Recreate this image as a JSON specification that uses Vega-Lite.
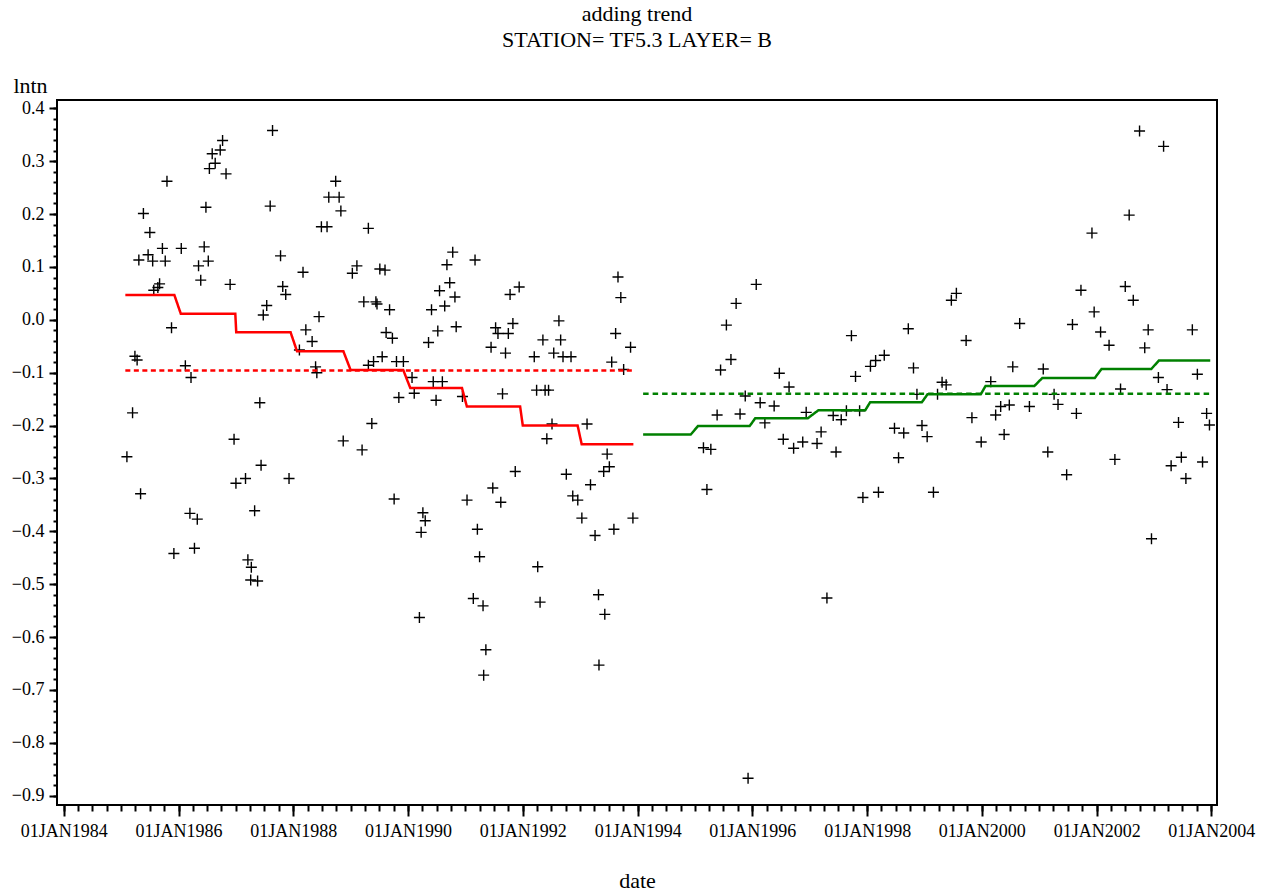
{
"$schema": "https://vega.github.io/schema/vega-lite/v6.json",
"width": 1160, "height": 705,
"autosize": "none",
"padding": {"left": 57, "top": 100, "right": 51, "bottom": 87},
"background": "white",
"config": {
 "view": {"stroke": "black", "strokeWidth": 2},
 "font": "Liberation Serif",
 "axis": {"domain": false, "grid": false, "tickColor": "black", "tickWidth": 2, "labelColor": "black", "labelFont": "Liberation Serif", "labelFontSize": 18, "titleFont": "Liberation Serif", "titleFontSize": 22, "titleFontWeight": "normal", "titleColor": "black", "labelFlush": false, "labelOverlap": false}
},
"title": {"text": ["adding trend", "STATION= TF5.3 LAYER= B"], "font": "Liberation Serif", "fontSize": 22, "fontWeight": "normal", "color": "black", "lineHeight": 26, "anchor": "middle", "frame": "group", "offset": 22},
"datasets": {
 "obs": [
{"date":"1987-08-22","lntn":0.358},{"date":"1986-10-08","lntn":0.339},{"date":"1986-09-23","lntn":0.321},{"date":"1986-08-03","lntn":0.314},{"date":"1986-08-22","lntn":0.296},{"date":"1986-07-16","lntn":0.286},{"date":"1986-10-30","lntn":0.276},{"date":"1985-10-19","lntn":0.262},{"date":"1988-09-27","lntn":0.262},{"date":"1988-08-14","lntn":0.232},{"date":"1988-10-19","lntn":0.232},{"date":"1988-10-30","lntn":0.206},{"date":"1986-06-24","lntn":0.213},{"date":"1987-08-07","lntn":0.215},{"date":"1985-05-22","lntn":0.201},{"date":"1985-07-02","lntn":0.165},{"date":"1988-06-28","lntn":0.176},{"date":"1988-08-03","lntn":0.176},{"date":"1989-04-23","lntn":0.173},{"date":"1985-04-23","lntn":0.113},{"date":"1985-06-21","lntn":0.123},{"date":"1985-07-20","lntn":0.111},{"date":"1985-09-20","lntn":0.135},{"date":"1985-10-08","lntn":0.111},{"date":"1986-01-18","lntn":0.135},{"date":"1986-06-13","lntn":0.138},{"date":"1986-05-08","lntn":0.102},{"date":"1986-07-09","lntn":0.111},{"date":"1986-05-22","lntn":0.075},{"date":"1986-11-25","lntn":0.067},{"date":"1987-10-12","lntn":0.121},{"date":"1988-03-03","lntn":0.090},{"date":"1985-07-27","lntn":0.056},{"date":"1985-08-22","lntn":0.061},{"date":"1985-09-02","lntn":0.068},{"date":"1987-10-26","lntn":0.063},{"date":"1987-11-14","lntn":0.048},{"date":"1987-07-16","lntn":0.027},{"date":"1987-06-24","lntn":0.009},{"date":"1988-06-13","lntn":0.006},{"date":"1985-11-17","lntn":-0.015},{"date":"1988-03-21","lntn":-0.019},{"date":"1988-04-30","lntn":-0.041},{"date":"1988-02-09","lntn":-0.057},{"date":"1989-02-09","lntn":0.102},{"date":"1989-01-11","lntn":0.088},{"date":"1989-07-05","lntn":0.096},{"date":"1989-08-07","lntn":0.094},{"date":"1989-03-25","lntn":0.034},{"date":"1989-06-10","lntn":0.034},{"date":"1989-06-17","lntn":0.030},{"date":"1989-09-05","lntn":0.019},{"date":"1989-08-14","lntn":-0.024},{"date":"1989-09-23","lntn":-0.035},{"date":"1989-07-20","lntn":-0.070},{"date":"1989-04-23","lntn":-0.086},{"date":"1989-05-26","lntn":-0.079},{"date":"1989-10-19","lntn":-0.079},{"date":"1989-12-02","lntn":-0.079},{"date":"1985-03-29","lntn":-0.069},{"date":"1985-04-12","lntn":-0.076},{"date":"1986-02-13","lntn":-0.087},{"date":"1986-03-21","lntn":-0.109},{"date":"1988-05-22","lntn":-0.089},{"date":"1988-05-30","lntn":-0.100},{"date":"1990-01-26","lntn":-0.109},{"date":"1990-02-09","lntn":-0.139},{"date":"1989-11-03","lntn":-0.147},
{"date":"1987-06-02","lntn":-0.157},{"date":"1985-03-14","lntn":-0.176},{"date":"1989-05-15","lntn":-0.196},{"date":"1988-11-14","lntn":-0.229},{"date":"1989-03-14","lntn":-0.246},{"date":"1986-12-20","lntn":-0.226},{"date":"1985-02-06","lntn":-0.259},{"date":"1987-06-10","lntn":-0.275},{"date":"1987-03-03","lntn":-0.300},{"date":"1987-01-01","lntn":-0.309},{"date":"1987-12-05","lntn":-0.300},{"date":"1985-05-04","lntn":-0.329},{"date":"1989-10-04","lntn":-0.339},{"date":"1990-04-05","lntn":-0.365},{"date":"1990-04-20","lntn":-0.380},{"date":"1990-03-25","lntn":-0.402},{"date":"1987-04-30","lntn":-0.361},{"date":"1986-03-14","lntn":-0.366},{"date":"1986-04-30","lntn":-0.377},{"date":"1985-12-02","lntn":-0.442},{"date":"1986-04-12","lntn":-0.432},{"date":"1987-03-18","lntn":-0.454},{"date":"1987-04-09","lntn":-0.468},{"date":"1987-04-05","lntn":-0.492},{"date":"1987-05-19","lntn":-0.494},{"date":"1990-03-14","lntn":-0.563},
{"date":"1990-10-12","lntn":0.128},{"date":"1991-03-03","lntn":0.113},{"date":"1990-09-05","lntn":0.104},{"date":"1990-09-23","lntn":0.070},{"date":"1990-07-20","lntn":0.055},{"date":"1990-10-26","lntn":0.043},{"date":"1990-08-22","lntn":0.026},{"date":"1990-05-30","lntn":0.019},{"date":"1990-07-09","lntn":-0.021},{"date":"1990-11-03","lntn":-0.013},{"date":"1990-05-11","lntn":-0.043},{"date":"1991-10-12","lntn":0.048},{"date":"1991-12-09","lntn":0.062},{"date":"1991-07-12","lntn":-0.015},{"date":"1991-07-27","lntn":-0.026},{"date":"1991-10-01","lntn":-0.026},{"date":"1991-10-30","lntn":-0.007},{"date":"1991-06-13","lntn":-0.052},{"date":"1991-09-13","lntn":-0.063},{"date":"1992-03-14","lntn":-0.070},{"date":"1992-05-08","lntn":-0.038},{"date":"1992-08-18","lntn":-0.002},{"date":"1992-08-29","lntn":-0.038},{"date":"1992-07-16","lntn":-0.063},{"date":"1992-09-13","lntn":-0.070},{"date":"1992-11-03","lntn":-0.070},{"date":"1993-08-29","lntn":0.081},{"date":"1993-09-16","lntn":0.042},{"date":"1993-08-14","lntn":-0.026},{"date":"1993-11-17","lntn":-0.052},{"date":"1993-07-20","lntn":-0.080},{"date":"1993-10-04","lntn":-0.094},{"date":"1990-06-10","lntn":-0.117},{"date":"1990-08-07","lntn":-0.117},{"date":"1990-06-28","lntn":-0.152},{"date":"1990-12-13","lntn":-0.145},{"date":"1991-08-25","lntn":-0.140},{"date":"1992-03-29","lntn":-0.133},{"date":"1992-05-22","lntn":-0.133},{"date":"1992-06-13","lntn":-0.133},{"date":"1992-07-05","lntn":-0.197},{"date":"1992-06-02","lntn":-0.225},{"date":"1993-02-13","lntn":-0.197},{"date":"1993-06-21","lntn":-0.254},
{"date":"1996-01-26","lntn":0.067},{"date":"1995-09-20","lntn":0.031},{"date":"1995-07-20","lntn":-0.010},{"date":"1995-08-18","lntn":-0.075},{"date":"1995-06-13","lntn":-0.095},{"date":"1996-06-21","lntn":-0.101},{"date":"1996-08-22","lntn":-0.127},{"date":"1995-11-17","lntn":-0.144},{"date":"1996-02-20","lntn":-0.157},{"date":"1996-05-19","lntn":-0.163},{"date":"1995-05-22","lntn":-0.180},{"date":"1995-10-15","lntn":-0.178},{"date":"1996-12-09","lntn":-0.175},{"date":"1996-03-21","lntn":-0.195},{"date":"1997-03-14","lntn":-0.212},{"date":"1996-07-16","lntn":-0.226},{"date":"1996-09-20","lntn":-0.243},{"date":"1996-11-17","lntn":-0.231},{"date":"1997-02-16","lntn":-0.234},{"date":"1995-02-24","lntn":-0.242},{"date":"1995-04-12","lntn":-0.245},
{"date":"2002-10-01","lntn":0.357},{"date":"2003-03-03","lntn":0.328},{"date":"2002-07-27","lntn":0.198},{"date":"2001-12-02","lntn":0.164},{"date":"1999-07-23","lntn":0.050},{"date":"1999-06-21","lntn":0.037},{"date":"2001-09-23","lntn":0.056},{"date":"2002-07-02","lntn":0.063},{"date":"2002-08-22","lntn":0.037},{"date":"2001-12-16","lntn":0.015},{"date":"2000-08-29","lntn":-0.007},{"date":"2001-07-31","lntn":-0.009},{"date":"2002-01-26","lntn":-0.023},{"date":"2002-11-25","lntn":-0.019},{"date":"2003-09-02","lntn":-0.019},{"date":"2002-03-21","lntn":-0.048},{"date":"2002-11-03","lntn":-0.053},{"date":"1998-09-20","lntn":-0.017},{"date":"1997-09-23","lntn":-0.030},{"date":"1999-09-23","lntn":-0.039},{"date":"1998-04-20","lntn":-0.067},{"date":"1998-02-24","lntn":-0.077},{"date":"1998-01-22","lntn":-0.088},{"date":"1997-10-19","lntn":-0.107},{"date":"1998-10-23","lntn":-0.091},{"date":"1999-04-23","lntn":-0.118},{"date":"1999-05-19","lntn":-0.123},{"date":"2000-02-27","lntn":-0.117},{"date":"2000-07-16","lntn":-0.089},{"date":"2001-01-26","lntn":-0.093},{"date":"1998-11-14","lntn":-0.141},{"date":"1999-03-25","lntn":-0.141},{"date":"2001-04-05","lntn":-0.141},{"date":"2002-06-02","lntn":-0.131},{"date":"2003-01-29","lntn":-0.109},{"date":"2003-03-25","lntn":-0.132},{"date":"2003-10-04","lntn":-0.103},{"date":"1997-08-22","lntn":-0.172},{"date":"1997-11-14","lntn":-0.172},{"date":"1997-05-30","lntn":-0.181},{"date":"1997-07-20","lntn":-0.189},{"date":"1997-06-17","lntn":-0.250},{"date":"1998-06-24","lntn":-0.205},{"date":"1998-08-22","lntn":-0.214},{"date":"1998-12-16","lntn":-0.200},{"date":"1999-01-18","lntn":-0.221},{"date":"1998-07-20","lntn":-0.261},{"date":"1999-10-30","lntn":-0.185},{"date":"1999-12-28","lntn":-0.231},{"date":"2000-04-30","lntn":-0.164},{"date":"2000-06-24","lntn":-0.161},{"date":"2000-03-29","lntn":-0.180},{"date":"2000-10-30","lntn":-0.164},{"date":"2000-05-22","lntn":-0.217},{"date":"2001-04-30","lntn":-0.160},{"date":"2001-08-25","lntn":-0.177},{"date":"2001-02-24","lntn":-0.250},{"date":"2002-04-27","lntn":-0.264},{"date":"2003-06-06","lntn":-0.194},{"date":"2003-12-02","lntn":-0.177},{"date":"2003-12-20","lntn":-0.199},{"date":"1997-12-05","lntn":-0.336},{"date":"1998-03-14","lntn":-0.326},{"date":"1999-02-27","lntn":-0.326},{"date":"2001-06-24","lntn":-0.293},{"date":"2003-04-20","lntn":-0.276},{"date":"2003-06-24","lntn":-0.260},{"date":"2003-07-23","lntn":-0.300},{"date":"2003-11-06","lntn":-0.269},{"date":"2002-12-16","lntn":-0.414},{"date":"1997-04-20","lntn":-0.526},
{"date":"1991-11-14","lntn":-0.287},{"date":"1991-06-24","lntn":-0.318},{"date":"1991-01-11","lntn":-0.341},{"date":"1991-08-14","lntn":-0.345},{"date":"1991-03-18","lntn":-0.396},{"date":"1991-04-01","lntn":-0.448},{"date":"1991-02-20","lntn":-0.527},{"date":"1991-04-23","lntn":-0.541},{"date":"1992-04-05","lntn":-0.467},{"date":"1992-04-20","lntn":-0.534},{"date":"1991-05-11","lntn":-0.624},{"date":"1991-04-27","lntn":-0.672},{"date":"1992-10-04","lntn":-0.292},{"date":"1992-11-14","lntn":-0.333},{"date":"1992-12-16","lntn":-0.341},{"date":"1993-03-07","lntn":-0.312},{"date":"1993-01-11","lntn":-0.375},{"date":"1993-04-05","lntn":-0.408},{"date":"1993-08-03","lntn":-0.396},{"date":"1993-12-02","lntn":-0.375},{"date":"1993-05-30","lntn":-0.287},{"date":"1993-07-05","lntn":-0.278},{"date":"1993-04-27","lntn":-0.520},{"date":"1993-06-06","lntn":-0.557},{"date":"1993-04-30","lntn":-0.653},{"date":"1995-03-18","lntn":-0.321},{"date":"1995-12-05","lntn":-0.867}
 ],
 "lines": [
{"series":"trend1985","date":"1985-01-27","lntn":0.047},{"series":"trend1985","date":"1985-12-05","lntn":0.047},{"series":"trend1985","date":"1986-01-15","lntn":0.0115},{"series":"trend1985","date":"1986-12-28","lntn":0.0115},{"series":"trend1985","date":"1987-01-03","lntn":-0.0237},{"series":"trend1985","date":"1987-12-15","lntn":-0.0237},{"series":"trend1985","date":"1988-01-25","lntn":-0.0596},{"series":"trend1985","date":"1988-11-15","lntn":-0.0596},{"series":"trend1985","date":"1988-12-31","lntn":-0.095},{"series":"trend1985","date":"1989-12-01","lntn":-0.095},{"series":"trend1985","date":"1990-01-15","lntn":-0.129},{"series":"trend1985","date":"1990-12-10","lntn":-0.129},{"series":"trend1985","date":"1991-01-10","lntn":-0.164},{"series":"trend1985","date":"1991-12-15","lntn":-0.164},{"series":"trend1985","date":"1992-01-01","lntn":-0.200},{"series":"trend1985","date":"1992-12-15","lntn":-0.200},{"series":"trend1985","date":"1993-01-10","lntn":-0.2355},{"series":"trend1985","date":"1993-12-05","lntn":-0.2355},
{"series":"mean1985","date":"1985-01-27","lntn":-0.096},{"series":"mean1985","date":"1993-12-05","lntn":-0.096},
{"series":"trend1994","date":"1994-02-05","lntn":-0.217},{"series":"trend1994","date":"1994-12-05","lntn":-0.217},{"series":"trend1994","date":"1995-01-20","lntn":-0.201},{"series":"trend1994","date":"1995-12-15","lntn":-0.201},{"series":"trend1994","date":"1996-01-20","lntn":-0.186},{"series":"trend1994","date":"1996-12-20","lntn":-0.186},{"series":"trend1994","date":"1997-02-25","lntn":-0.171},{"series":"trend1994","date":"1997-12-20","lntn":-0.171},{"series":"trend1994","date":"1998-01-20","lntn":-0.156},{"series":"trend1994","date":"1998-12-15","lntn":-0.156},{"series":"trend1994","date":"1999-01-20","lntn":-0.141},{"series":"trend1994","date":"1999-12-25","lntn":-0.141},{"series":"trend1994","date":"2000-01-25","lntn":-0.125},{"series":"trend1994","date":"2000-12-01","lntn":-0.125},{"series":"trend1994","date":"2001-01-20","lntn":-0.110},{"series":"trend1994","date":"2001-12-20","lntn":-0.110},{"series":"trend1994","date":"2002-02-01","lntn":-0.093},{"series":"trend1994","date":"2002-12-15","lntn":-0.093},{"series":"trend1994","date":"2003-02-01","lntn":-0.077},{"series":"trend1994","date":"2003-12-25","lntn":-0.077},
{"series":"mean1994","date":"1994-02-05","lntn":-0.140},{"series":"mean1994","date":"2003-12-25","lntn":-0.140}
 ]
},
"layer": [
 {
  "data": {"name": "obs"},
  "mark": {"type": "point", "shape": "M-1,0L1,0M0,-1L0,1", "size": 121, "filled": false, "stroke": "black", "strokeWidth": 1.4, "opacity": 1},
  "encoding": {
   "x": {"field": "date", "type": "temporal",
    "scale": {"type": "utc", "domain": [{"year": 1983, "month": 11, "date": 19, "utc": true}, {"year": 2004, "month": 2, "date": 6, "utc": true}]},
    "axis": {"orient": "bottom", "tickCount": {"interval": "year", "step": 2}, "tickSize": 11, "labelPadding": 6, "labelExpr": "upper(utcFormat(datum.value, '%d%b%Y'))", "title": "date", "titleY": 75, "titleBaseline": "middle"}},
   "y": {"field": "lntn", "type": "quantitative",
    "scale": {"domain": [-0.9176, 0.4157], "nice": false, "zero": false},
    "axis": {"orient": "left", "values": [-0.9,-0.8,-0.7,-0.6,-0.5,-0.4,-0.3,-0.2,-0.1,0,0.1,0.2,0.3,0.4], "format": ".1f", "tickSize": 8, "labelPadding": 5, "title": "lntn", "titleAngle": 0, "titleAlign": "center", "titleBaseline": "alphabetic", "titleX": -27, "titleY": -8}}
  }
 },
 {
  "data": {"name": "lines"},
  "mark": {"type": "line", "strokeWidth": 2.5},
  "encoding": {
   "x": {"field": "date", "type": "temporal",
    "scale": {"type": "utc", "domain": [{"year": 1983, "month": 11, "date": 19, "utc": true}, {"year": 2004, "month": 2, "date": 6, "utc": true}]},
    "axis": {"orient": "bottom", "tickCount": {"interval": "month", "step": 3}, "tickSize": 6, "labels": false, "title": null}},
   "y": {"field": "lntn", "type": "quantitative",
    "scale": {"domain": [-0.9176, 0.4157], "nice": false, "zero": false},
    "axis": {"orient": "left", "values": [-0.9,-0.88,-0.86,-0.84,-0.82,-0.8,-0.78,-0.76,-0.74,-0.72,-0.7,-0.68,-0.66,-0.64,-0.62,-0.6,-0.58,-0.56,-0.54,-0.52,-0.5,-0.48,-0.46,-0.44,-0.42,-0.4,-0.38,-0.36,-0.34,-0.32,-0.3,-0.28,-0.26,-0.24,-0.22,-0.2,-0.18,-0.16,-0.14,-0.12,-0.1,-0.08,-0.06,-0.04,-0.02,0,0.02,0.04,0.06,0.08,0.1,0.12,0.14,0.16,0.18,0.2,0.22,0.24,0.26,0.28,0.3,0.32,0.34,0.36,0.38,0.4], "tickSize": 4, "labels": false, "title": null}},
   "color": {"field": "series", "type": "nominal", "scale": {"domain": ["trend1985","mean1985","trend1994","mean1994"], "range": ["#ff0000","#ff0000","#008000","#008000"]}, "legend": null},
   "strokeDash": {"field": "series", "type": "nominal", "scale": {"domain": ["trend1985","mean1985","trend1994","mean1994"], "range": [[1,0],[5,3.5],[1,0],[5.5,4]]}, "legend": null}
  }
 }
],
"resolve": {"axis": {"x": "independent", "y": "independent"}}
}
